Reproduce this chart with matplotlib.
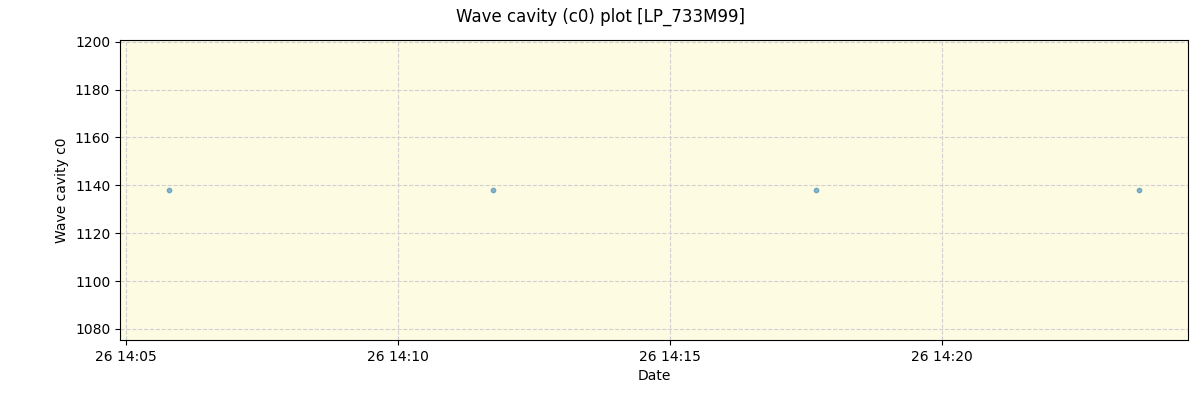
import matplotlib
matplotlib.use("Agg")
import matplotlib.pyplot as plt
import matplotlib.dates as mdates
import pandas as pd

# data
times = pd.to_datetime([
    "2024-01-26 14:05:47",
    "2024-01-26 14:11:44",
    "2024-01-26 14:17:41",
    "2024-01-26 14:23:37",
])
c0 = [1138, 1138, 1138, 1138]

fig, ax = plt.subplots(figsize=(12, 4), dpi=100)
ax.set_facecolor("#fdfbe2")
ax.scatter(times, c0, s=10, color="#1f77b4", alpha=0.5, zorder=3)

ax.set_xlim(pd.Timestamp("2024-01-26 14:04:53"), pd.Timestamp("2024-01-26 14:24:31"))
ax.set_ylim(1075.4, 1200.7)
ax.xaxis.set_major_locator(mdates.MinuteLocator(byminute=range(0, 60, 5)))
ax.xaxis.set_major_formatter(mdates.DateFormatter("%d %H:%M"))

ax.grid(True, linestyle="--", color="#d0d0d0", linewidth=0.8)
ax.set_xlabel("Date")
ax.set_ylabel("Wave cavity c0")
fig.suptitle("Wave cavity (c0) plot [LP_733M99]")

fig.subplots_adjust(left=0.1, right=0.99, top=0.9, bottom=0.15)
fig.savefig("out.png")
